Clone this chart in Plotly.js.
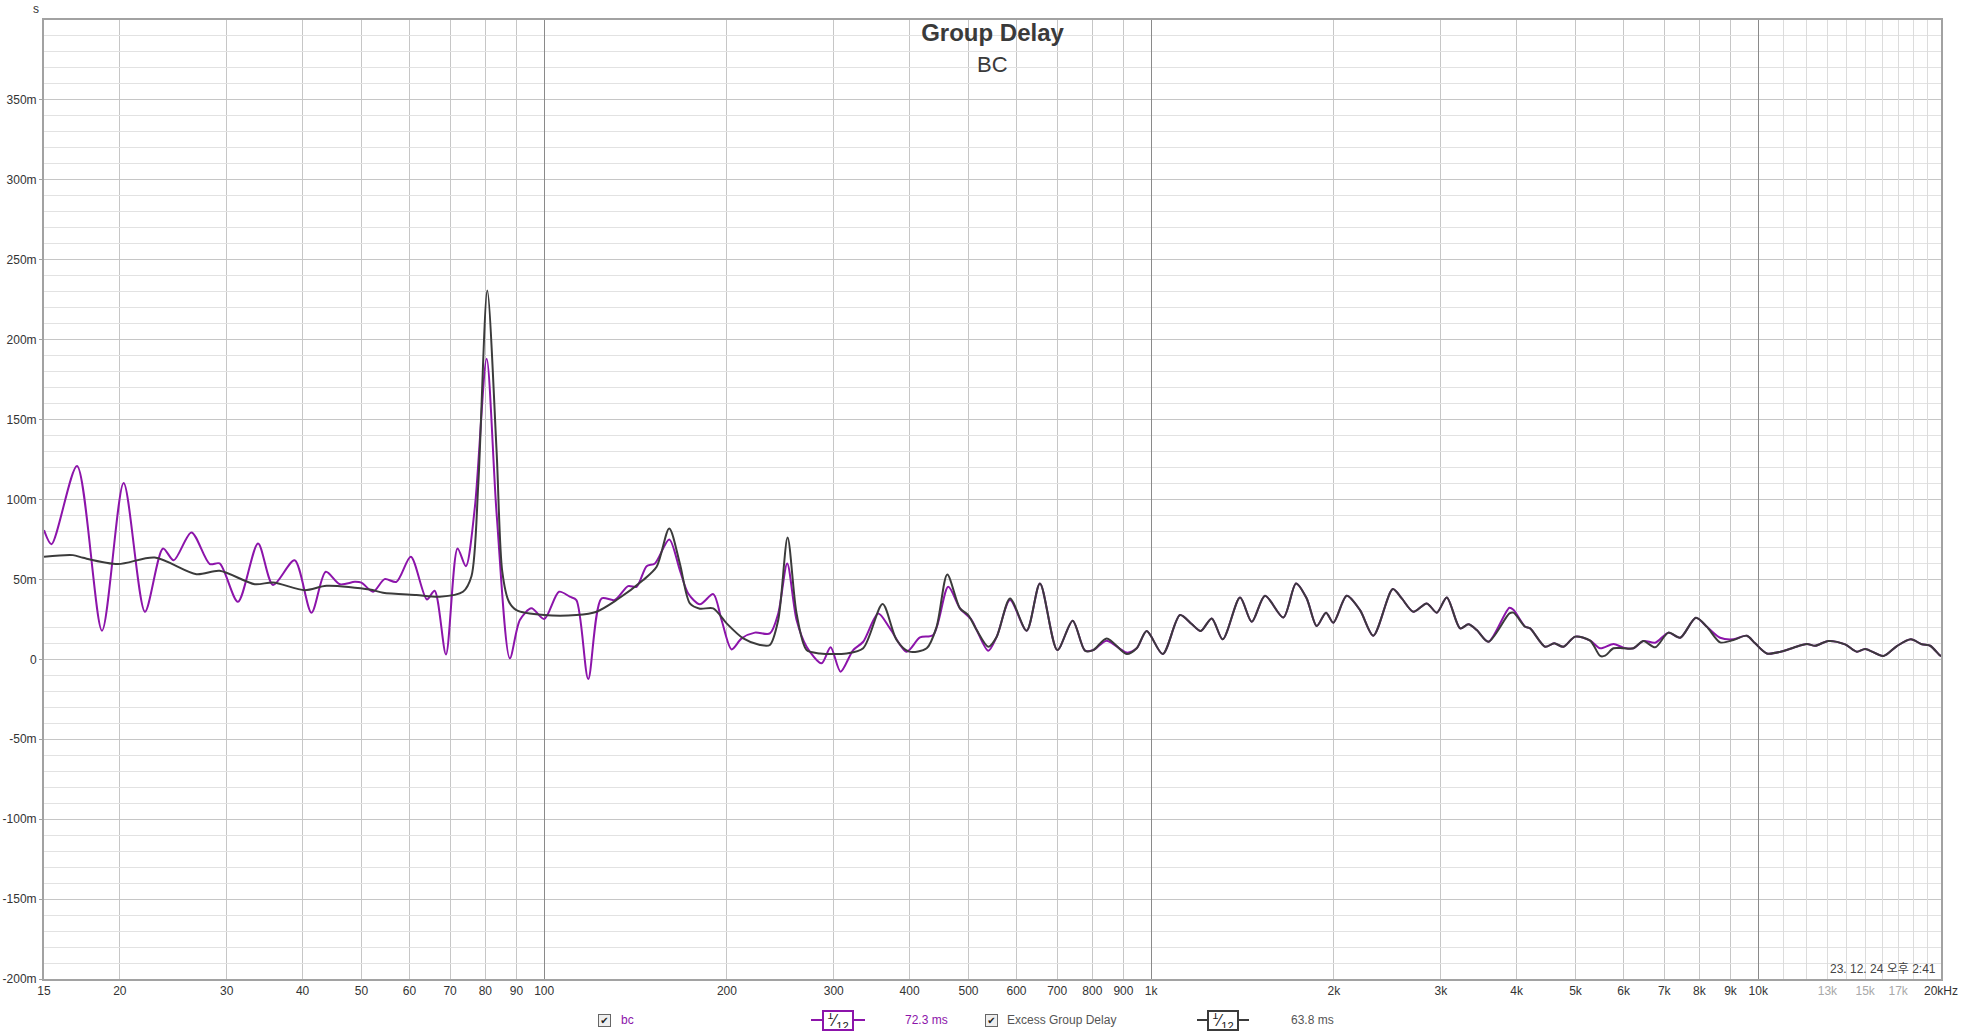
<!DOCTYPE html>
<html>
<head>
<meta charset="utf-8">
<script src="https://cdn.plot.ly/plotly-3.0.1.min.js"></script>
<style>
html,body{margin:0;padding:0;background:#fff;}
#chart{width:1962px;height:1035px;}
</style>
</head>
<body>
<div id="chart"></div>
<script>
// ---- data (frequency in Hz, group delay in ms) ----
const bcFreq = [15, 15.43, 17.0, 18.69, 20.29, 22.0, 23.56, 24.53, 26.24, 28.13, 29.2, 31.3, 33.78, 35.76, 38.8, 41.37, 43.68, 46.07, 48.76, 50.0,
  52.26, 54.6, 57.1, 60.3, 64.1, 66.0, 68.9, 72.0, 74.3, 76.9, 80.4, 83.5, 87.8, 91.2, 95.3, 100, 105.8, 110.2, 113, 118.2, 124.3, 130.7, 137.5, 142, 147.5, 152.2, 160.7,
  167.3, 172.7, 180.5, 189.9, 196, 203.6, 211.5, 222.4, 235.4, 243, 251.4, 260.5, 270.6, 286.4, 296.4, 307.8, 322.9, 335.4, 355, 371.2, 395.4, 416, 437.5, 463.1, 484.1, 506.1,
  515.8, 539, 556.6, 585.4, 623.5, 655.7, 700.4, 742.4, 777.9, 802.8, 844.7, 911.3, 946.4, 983, 1044.7, 1115.4, 1166, 1206.5, 1258, 1311.5, 1400.7, 1464.2, 1539.9, 1650.6, 1732,
  1803.6, 1873.3, 1940.6, 1995.1, 2099.3, 2207.8, 2322.2, 2500, 2586.8, 2703.2, 2844.3, 2954.2, 3068.4, 3227.3, 3330.5, 3438.4, 3593.1, 3891.3, 3950.8, 4130.3, 4209.3,
  4456, 4610.8, 4776.5, 4993.2, 5285.9, 5489.9, 5774, 5997, 6228.6, 6469.5, 6763, 7113.3, 7436.5, 7892.3, 8228.8, 8654.6, 9101.1, 9575.6, 9881.9,
  10331, 11002, 11428, 12024, 12408, 13049, 13903, 14535, 15000, 16079, 16917, 17840, 18600, 19196, 19884, 20000];
const bcDelay = [80.8, 72, 121, 17.9, 110.4, 29.8, 69.4, 62, 79.4, 59.6, 60, 36, 72.5, 46.5, 62, 29.2, 54.8, 47, 48.5, 48,
  42.3, 50.2, 48.5, 64.2, 37.5, 42.9, 3.1, 69.4, 58.3, 95.4, 188.1, 91.2, 0.6, 24.6, 31.9, 25.2, 42.3, 39.2, 37.1, -12.3, 38.1, 37.1, 45.8, 45.4, 58.3, 60, 75,
  55.8, 41.2, 34.4, 40.8, 24.6, 6.2, 13.1, 16.7, 16.2, 28.7, 60, 24.6, 7.9, -2.5, 7.5, -7.7, 5.8, 11, 28.7, 19.4, 4.8, 13.7, 15.2, 45.4, 31.9, 24.6,
  18.3, 5.4, 14.2, 37.1, 17.9, 47.5, 5.8, 24.2, 5.4, 5.8, 11.7, 4.2, 6.9, 17.7, 3.3, 27.7, 22.1, 17.7, 25.6, 12.5, 38.7, 23.5, 39.8, 26.2, 47.5,
  38.1, 20.8, 29.2, 22.9, 39.8, 30.8, 14.8, 44, 38.1, 29.8, 35, 29.2, 38.7, 19.4, 21.9, 18.3, 11, 32.3, 31, 20.4, 19.4,
  7.9, 10, 7.9, 14.2, 11.7, 6.9, 9.6, 7.3, 6.9, 11.5, 10.4, 16.7, 13.5, 26, 20.4, 13.5, 12.5, 14.8, 10,
  3.7, 5.2, 7.3, 9.6, 8.5, 11.5, 9.4, 4.8, 6.5, 2.1, 8.3, 12.5, 9.4, 8.5, 2.7, 2];

const exFreq = [15, 16.74, 17.4, 19.86, 22.83, 26.74, 29.2, 33.36, 35.76, 40.33, 43.8, 51.6, 54.28, 61.6, 67.3, 73.5, 75.9, 77.9, 80.6, 83.5, 85.3, 87.5, 90, 100, 113, 122, 131.6, 145.6, 153.2, 160.7,
  167.3, 173.8, 180.5, 189.9, 199.8, 212.8, 226.7, 235.4, 243, 251.8, 260.5, 270.6, 284.6, 314.9, 335.4, 361, 380.7, 399.4, 426.7, 443.1, 461.4, 484.1, 499.6,
  515.8, 539, 556.6, 585.4, 623.5, 655.7, 700.4, 742.4, 777.9, 802.8, 844.7, 911.3, 946.4, 983, 1044.7, 1115.4, 1166, 1206.5, 1258, 1311.5, 1400.7, 1464.2, 1539.9, 1650.6, 1732,
  1803.6, 1873.3, 1940.6, 1995.1, 2099.3, 2207.8, 2322.2, 2500, 2586.8, 2703.2, 2844.3, 2954.2, 3068.4, 3227.3, 3330.5, 3438.4, 3593.1, 3891.3, 3950.8, 4130.3, 4209.3,
  4456, 4610.8, 4776.5, 4993.2, 5285.9, 5489.9, 5595, 5774, 5997, 6228.6, 6469.5, 6763, 7113.3, 7436.5, 7892.3, 8228.8, 8654.6, 9101.1, 9575.6, 9881.9,
  10331, 11002, 11428, 12024, 12408, 13049, 13903, 14535, 15000, 16079, 16917, 17840, 18600, 19196, 19884, 20000];
const exDelay = [64.2, 65.2, 63.5, 59.6, 63.7, 53.3, 55.4, 47, 48.1, 43.3, 46, 43.7, 41.7, 40.2, 39.2, 42.3, 52, 110, 230.8, 130, 55, 36, 30.8, 27.7, 27.7, 29.8, 37.1, 49.6, 57.9, 81.9,
  60, 35, 31.7, 31.9, 22.5, 13.1, 9, 9, 24.6, 76.2, 28.7, 5.8, 3.7, 3.7, 6.9, 34.6, 12.1, 4.8, 6.9, 20.4, 53.1, 31.9, 27.7,
  18.3, 7.9, 14.2, 38.1, 17.9, 47.5, 5.8, 24.2, 5.4, 5.8, 13.1, 3.3, 6.9, 17.7, 3.3, 27.7, 22.1, 17.7, 25.6, 12.5, 38.7, 23.5, 39.8, 26.2, 47.5,
  38.1, 20.8, 29.2, 22.9, 39.8, 30.8, 14.8, 44, 38.1, 29.8, 35, 29.2, 38.7, 19.4, 21.9, 18.3, 11, 28.7, 29.2, 20.4, 19.4,
  7.9, 10, 7.9, 14.2, 11.7, 2.1, 2.3, 6.9, 6.9, 6.9, 11.5, 7.5, 16.7, 13.5, 26, 20.4, 10.6, 12.1, 14.8, 10,
  3.7, 5.2, 7.3, 9.6, 8.5, 11.5, 9.4, 4.8, 6.5, 2.1, 8.3, 12.5, 9.4, 8.5, 2.7, 2];

// ---- ticks ----
const xTickVals = [15,20,30,40,50,60,70,80,90,100,200,300,400,500,600,700,800,900,1000,2000,3000,4000,5000,6000,7000,8000,9000,10000,13000,15000,17000,20000];
const xTickText = ['15','20','30','40','50','60','70','80','90','100','200','300','400','500','600','700','800','900','1k','2k','3k','4k','5k','6k','7k','8k','9k','10k',
  '<span style="fill:#a8a8a8">13k</span>','<span style="fill:#a8a8a8">15k</span>','<span style="fill:#a8a8a8">17k</span>','20kHz'];
const xGridVals = [20,30,40,50,60,70,80,90,200,300,400,500,600,700,800,900,2000,3000,4000,5000,6000,7000,8000,9000];
const xDecadeVals = [100,1000,10000];
const xHighVals = [11000,12000,13000,14000,15000,16000,17000,18000,19000];
const yTickVals = [-200,-150,-100,-50,0,50,100,150,200,250,300,350];
const yTickText = ['-200m','-150m','-100m','-50m','0','50m','100m','150m','200m','250m','300m','350m'];

const bcColor = '#8c14aa';
const exColor = '#3b3b3b';
const textColor = '#333333';
const FONT = 'Liberation Sans, Arial, sans-serif';

// plot box in pixels
const L = 44, R = 1941, T = 20, B = 979;
const W = 1962, H = 1035;
const px = x => (x - L) / (R - L);
const py = y => (B - y) / (B - T);

const xr = [Math.log10(15), Math.log10(20000)];

const traces = [
  {x: bcFreq, y: bcDelay, type: 'scatter', mode: 'lines', name: 'bc',
   line: {color: bcColor, width: 2, shape: 'spline', smoothing: 0.8}, hoverinfo: 'skip'},
  {x: exFreq, y: exDelay, type: 'scatter', mode: 'lines', name: 'Excess Group Delay',
   line: {color: exColor, width: 2, shape: 'spline', smoothing: 0.8}, hoverinfo: 'skip'}
];

const legendY = 1020;
const shapes = [
  // smoothing symbol lines
  {type:'line', xref:'paper', yref:'paper', x0:px(811), x1:px(865), y0:py(legendY), y1:py(legendY), line:{color:bcColor, width:2}},
  {type:'line', xref:'paper', yref:'paper', x0:px(1197), x1:px(1249), y0:py(legendY), y1:py(legendY), line:{color:exColor, width:2}}
];

const annotations = [
  {xref:'paper', yref:'paper', x:0.5, y:py(64), xanchor:'center', yanchor:'middle', showarrow:false,
   text:'BC', font:{family:FONT, size:22, color:'#3a3a3a'}},
  {xref:'paper', yref:'paper', x:px(36), y:py(9), xanchor:'center', yanchor:'middle', showarrow:false,
   text:'s', font:{family:FONT, size:12, color:textColor}},
  {xref:'paper', yref:'paper', x:1, y:0, xanchor:'right', yanchor:'bottom', xshift:-3, yshift:1, showarrow:false,
   text:'23. 12. 24 오후 2:41', font:{family:'Liberation Sans, Arial, Noto Sans CJK KR, sans-serif', size:12, color:'#444'}},
  // legend: bc
  {xref:'paper', yref:'paper', x:px(604), y:py(legendY), xanchor:'center', yanchor:'middle', showarrow:false,
   text:'✔', font:{family:'DejaVu Sans', size:10, color:'#222'}, bgcolor:'#eeeeee', bordercolor:'#666', borderwidth:1, borderpad:0,
   width:11, height:11},
  {xref:'paper', yref:'paper', x:px(619), y:py(legendY), xanchor:'left', yanchor:'middle', showarrow:false,
   text:'bc', font:{family:FONT, size:12, color:bcColor}},
  {xref:'paper', yref:'paper', x:px(838), y:py(legendY), xanchor:'center', yanchor:'middle', showarrow:false,
   text:'<sup>1</sup>⁄<sub>12</sub>', font:{family:FONT, size:16, color:'#222'}, bgcolor:'#ffffff', bordercolor:bcColor, borderwidth:2, borderpad:1,
   width:26, height:15},
  {xref:'paper', yref:'paper', x:px(903), y:py(legendY), xanchor:'left', yanchor:'middle', showarrow:false,
   text:'72.3 ms', font:{family:FONT, size:12, color:bcColor}},
  // legend: excess
  {xref:'paper', yref:'paper', x:px(991), y:py(legendY), xanchor:'center', yanchor:'middle', showarrow:false,
   text:'✔', font:{family:'DejaVu Sans', size:10, color:'#222'}, bgcolor:'#eeeeee', bordercolor:'#666', borderwidth:1, borderpad:0,
   width:11, height:11},
  {xref:'paper', yref:'paper', x:px(1005), y:py(legendY), xanchor:'left', yanchor:'middle', showarrow:false,
   text:'Excess Group Delay', font:{family:FONT, size:12, color:'#555'}},
  {xref:'paper', yref:'paper', x:px(1223), y:py(legendY), xanchor:'center', yanchor:'middle', showarrow:false,
   text:'<sup>1</sup>⁄<sub>12</sub>', font:{family:FONT, size:16, color:'#222'}, bgcolor:'#ffffff', bordercolor:exColor, borderwidth:2, borderpad:1,
   width:26, height:15},
  {xref:'paper', yref:'paper', x:px(1289), y:py(legendY), xanchor:'left', yanchor:'middle', showarrow:false,
   text:'63.8 ms', font:{family:FONT, size:12, color:'#555'}}
];

const layout = {
  width: W, height: H,
  margin: {l: L, r: W - R, t: T, b: H - B, pad: 0},
  paper_bgcolor: '#ffffff', plot_bgcolor: '#ffffff',
  font: {family: FONT, size: 12, color: textColor},
  showlegend: false,
  title: {text: '<b>Group Delay</b>', font: {family: FONT, size: 24, color: '#3a3a3a'},
          x: 0.5, xref: 'paper', xanchor: 'center', y: 1 - 33 / H, yref: 'container', yanchor: 'middle'},
  xaxis: {
    type: 'log', range: xr, tickmode: 'array', tickvals: xTickVals, ticktext: xTickText,
    showgrid: false, zeroline: false, ticks: '', tickfont: {size: 12, color: textColor},
    showline: true, mirror: true, linecolor: '#a2a2a2', linewidth: 2,
    minor: {tickmode: 'array', tickvals: xGridVals, showgrid: true, gridcolor: '#c6c6c6', gridwidth: 1, ticks: ''},
    fixedrange: true
  },
  xaxis2: {
    type: 'log', range: xr, overlaying: 'x', anchor: 'y', side: 'bottom', tickmode: 'array', tickvals: xHighVals,
    showticklabels: false, showgrid: true, gridcolor: '#dcdcdc', gridwidth: 1, ticks: '', zeroline: false, showline: false
  },
  xaxis3: {
    type: 'log', range: xr, overlaying: 'x', anchor: 'y', side: 'bottom', tickmode: 'array', tickvals: xDecadeVals,
    showticklabels: false, showgrid: true, gridcolor: '#8a8a8a', gridwidth: 1, ticks: '', zeroline: false, showline: false
  },
  yaxis: {
    range: [-200, 400], tickmode: 'array', tickvals: yTickVals, ticktext: yTickText,
    showgrid: true, gridcolor: '#c6c6c6', gridwidth: 1, zeroline: false,
    ticks: 'outside', ticklen: 3, tickcolor: '#a2a2a2', tickfont: {size: 12, color: textColor},
    showline: true, mirror: true, linecolor: '#a2a2a2', linewidth: 2,
    minor: {tickmode: 'linear', tick0: 0, dtick: 10, showgrid: true, gridcolor: '#e2e2e2', gridwidth: 1, ticks: ''},
    fixedrange: true
  },
  shapes: shapes,
  annotations: annotations
};

// invisible helper traces so the overlay grid axes render
const helperX2 = {x: [15, 20000], y: [null, null], xaxis: 'x2', yaxis: 'y', type: 'scatter', mode: 'lines', hoverinfo: 'skip', showlegend: false};
const helperX3 = {x: [15, 20000], y: [null, null], xaxis: 'x3', yaxis: 'y', type: 'scatter', mode: 'lines', hoverinfo: 'skip', showlegend: false};

Plotly.newPlot('chart', [helperX2, helperX3].concat(traces), layout, {staticPlot: true, displayModeBar: false});
</script>
</body>
</html>
